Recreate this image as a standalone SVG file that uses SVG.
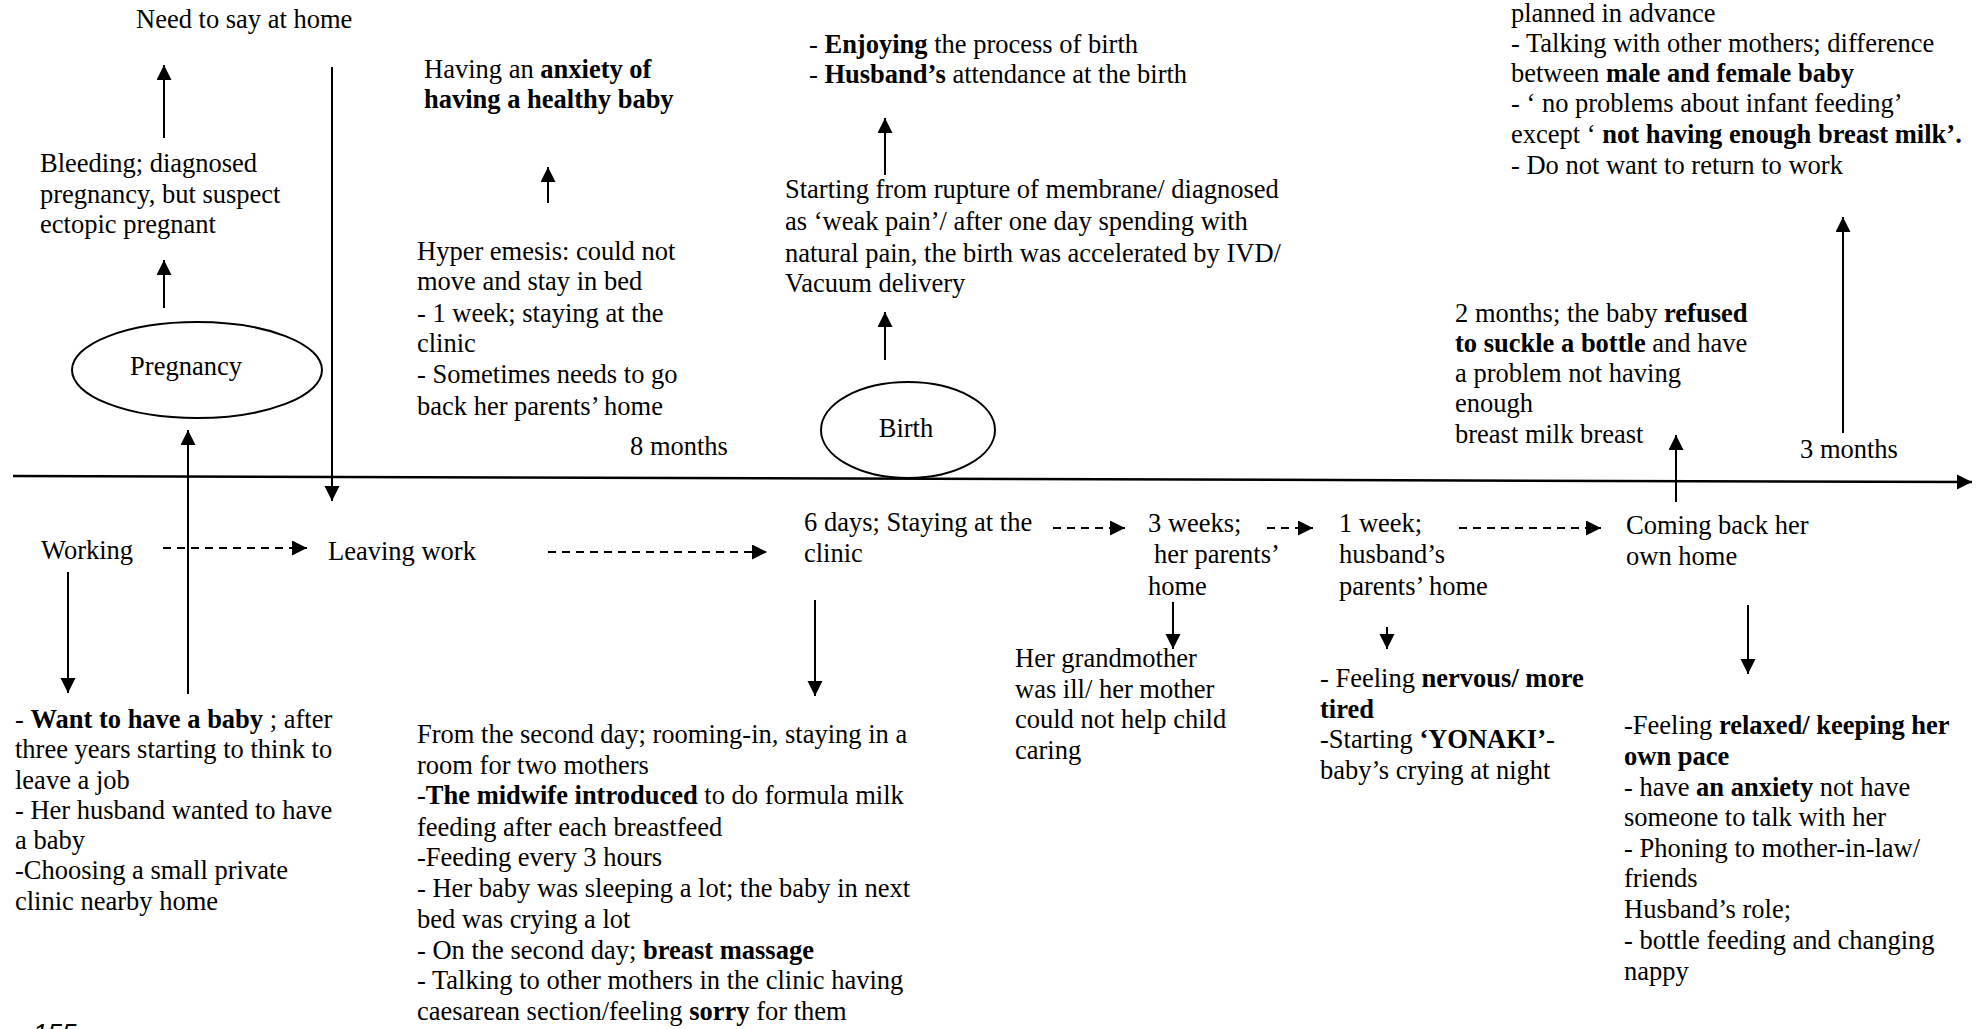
<svg xmlns="http://www.w3.org/2000/svg" width="1981" height="1029" viewBox="0 0 1981 1029">
<style>
text{font-family:"Liberation Serif","Times New Roman",serif;font-size:26.5px;fill:#000}
.b{font-weight:bold}
.mid{text-anchor:middle}
.ln{stroke:#000;stroke-width:2;fill:none}
.arr{stroke:#000;stroke-width:2;fill:none;marker-end:url(#ah)}
.dash{stroke:#000;stroke-width:2;fill:none;stroke-dasharray:8 6;marker-end:url(#ah)}
.ell{stroke:#000;stroke-width:2;fill:#fff}
.pg{font-family:"Liberation Sans",Arial,sans-serif;font-style:italic;font-size:26px}
</style>
<defs>
<marker id="ah" markerUnits="userSpaceOnUse" markerWidth="16" markerHeight="16" refX="15" refY="7.5" orient="auto" viewBox="0 0 16 16">
<path d="M0,0 L15,7.5 L0,15 z" fill="#000"/>
</marker>
</defs>
<rect width="1981" height="1029" fill="#fff"/>

<g id="connectors">
<line class="arr" x1="13" y1="476" x2="1972" y2="482" style="stroke-width:2.5"/>
<line class="arr" x1="164" y1="138" x2="164" y2="65"/>
<line class="arr" x1="164" y1="308" x2="164" y2="260"/>
<line class="arr" x1="188" y1="694" x2="188" y2="430"/>
<line class="arr" x1="332" y1="67" x2="332" y2="501"/>
<line class="arr" x1="548" y1="203" x2="548" y2="167"/>
<line class="arr" x1="885" y1="360" x2="885" y2="312"/>
<line class="arr" x1="885" y1="175" x2="885" y2="118"/>
<line class="arr" x1="68" y1="572" x2="68" y2="693"/>
<line class="arr" x1="815" y1="600" x2="815" y2="696"/>
<line class="arr" x1="1173" y1="602" x2="1173" y2="649"/>
<line class="arr" x1="1387" y1="627" x2="1387" y2="649"/>
<line class="arr" x1="1748" y1="605" x2="1748" y2="674"/>
<line class="arr" x1="1676" y1="502" x2="1676" y2="435"/>
<line class="arr" x1="1843" y1="433" x2="1843" y2="217"/>
<line class="dash" x1="163" y1="548" x2="307" y2="548"/>
<line class="dash" x1="548" y1="552" x2="767" y2="552"/>
<line class="dash" x1="1053" y1="528" x2="1125" y2="528"/>
<line class="dash" x1="1267" y1="528" x2="1313" y2="528"/>
<line class="dash" x1="1459" y1="528" x2="1601" y2="528"/>
</g>

<g id="need-home"><text x="136" y="28">Need to say at home</text></g>

<g id="bleeding">
<text x="40" y="172">Bleeding; diagnosed</text>
<text x="40" y="203">pregnancy, but suspect</text>
<text x="40" y="233">ectopic pregnant</text>
</g>

<g id="pregnancy">
<ellipse class="ell" cx="197" cy="370" rx="125" ry="48"/>
<text class="mid" x="186" y="375">Pregnancy</text>
</g>

<g id="anxiety">
<text x="424" y="78">Having an <tspan class="b">anxiety of</tspan></text>
<text x="424" y="108" class="b">having a healthy baby</text>
</g>

<g id="hyper-emesis">
<text x="417" y="260">Hyper emesis: could not</text>
<text x="417" y="290">move and stay in bed</text>
<text x="417" y="322">- 1 week; staying at the</text>
<text x="417" y="352">clinic</text>
<text x="417" y="383">- Sometimes needs to go</text>
<text x="417" y="415">back her parents’ home</text>
</g>

<g id="eight-months"><text x="630" y="455">8 months</text></g>

<g id="birth">
<ellipse class="ell" cx="908" cy="430" rx="87" ry="48"/>
<text class="mid" x="906" y="437">Birth</text>
</g>

<g id="starting">
<text x="785" y="198">Starting from rupture of membrane/ diagnosed</text>
<text x="785" y="230">as ‘weak pain’/ after one day spending with</text>
<text x="785" y="262">natural pain, the birth was accelerated by IVD/</text>
<text x="785" y="292">Vacuum delivery</text>
</g>

<g id="enjoying">
<text x="809" y="53">- <tspan class="b">Enjoying</tspan> the process of birth</text>
<text x="809" y="83">- <tspan class="b">Husband’s</tspan> attendance at the birth</text>
</g>

<g id="planned">
<text x="1511" y="22">planned in advance</text>
<text x="1511" y="52">- Talking with other mothers; difference</text>
<text x="1511" y="82">between <tspan class="b">male and female baby</tspan></text>
<text x="1511" y="112">- ‘ no problems about infant feeding’</text>
<text x="1511" y="143">except ‘ <tspan class="b">not having enough breast milk’.</tspan></text>
<text x="1511" y="174">- Do not want to return to work</text>
</g>

<g id="two-months">
<text x="1455" y="322">2 months; the baby <tspan class="b">refused</tspan></text>
<text x="1455" y="352"><tspan class="b">to suckle a bottle</tspan> and have</text>
<text x="1455" y="382">a problem not having</text>
<text x="1455" y="412">enough</text>
<text x="1455" y="443">breast milk breast</text>
</g>

<g id="three-months"><text x="1800" y="458">3 months</text></g>

<g id="working"><text x="41" y="559">Working</text></g>
<g id="leaving-work"><text x="328" y="560">Leaving work</text></g>

<g id="six-days">
<text x="804" y="531">6 days; Staying at the</text>
<text x="804" y="562">clinic</text>
</g>

<g id="three-weeks">
<text x="1148" y="532">3 weeks;</text>
<text x="1154" y="563">her parents’</text>
<text x="1148" y="595">home</text>
</g>

<g id="one-week">
<text x="1339" y="532">1 week;</text>
<text x="1339" y="563">husband’s</text>
<text x="1339" y="595">parents’ home</text>
</g>

<g id="coming-back">
<text x="1626" y="534">Coming back her</text>
<text x="1626" y="565">own home</text>
</g>

<g id="want-baby">
<text x="15" y="728">- <tspan class="b">Want to have a baby</tspan> ; after</text>
<text x="15" y="758">three years starting to think to</text>
<text x="15" y="789">leave a job</text>
<text x="15" y="819">- Her husband wanted to have</text>
<text x="15" y="849">a baby</text>
<text x="15" y="879">-Choosing a small private</text>
<text x="15" y="910">clinic nearby home</text>
</g>

<g id="second-day">
<text x="417" y="743">From the second day; rooming-in, staying in a</text>
<text x="417" y="774">room for two mothers</text>
<text x="417" y="804">-<tspan class="b">The midwife introduced</tspan> to do formula milk</text>
<text x="417" y="836">feeding after each breastfeed</text>
<text x="417" y="866">-Feeding every 3 hours</text>
<text x="417" y="897">- Her baby was sleeping a lot; the baby in next</text>
<text x="417" y="928">bed was crying a lot</text>
<text x="417" y="959">- On the second day; <tspan class="b">breast massage</tspan></text>
<text x="417" y="989">- Talking to other mothers in the clinic having</text>
<text x="417" y="1020">caesarean section/feeling <tspan class="b">sorry</tspan> for them</text>
</g>

<g id="grandmother">
<text x="1015" y="667">Her grandmother</text>
<text x="1015" y="698">was ill/ her mother</text>
<text x="1015" y="728">could not help child</text>
<text x="1015" y="759">caring</text>
</g>

<g id="nervous">
<text x="1320" y="687">- Feeling <tspan class="b">nervous/ more</tspan></text>
<text x="1320" y="718" class="b">tired</text>
<text x="1320" y="748">-Starting <tspan class="b">‘YONAKI’</tspan>-</text>
<text x="1320" y="779">baby’s crying at night</text>
</g>

<g id="relaxed">
<text x="1624" y="734">-Feeling <tspan class="b">relaxed/ keeping her</tspan></text>
<text x="1624" y="765" class="b">own pace</text>
<text x="1624" y="796">- have <tspan class="b">an anxiety</tspan> not have</text>
<text x="1624" y="826">someone to talk with her</text>
<text x="1624" y="857">- Phoning to mother-in-law/</text>
<text x="1624" y="887">friends</text>
<text x="1624" y="918">Husband’s role;</text>
<text x="1624" y="949">- bottle feeding and changing</text>
<text x="1624" y="980">nappy</text>
</g>

<g id="page-number"><text class="pg" x="33" y="1042">155</text></g>
</svg>
